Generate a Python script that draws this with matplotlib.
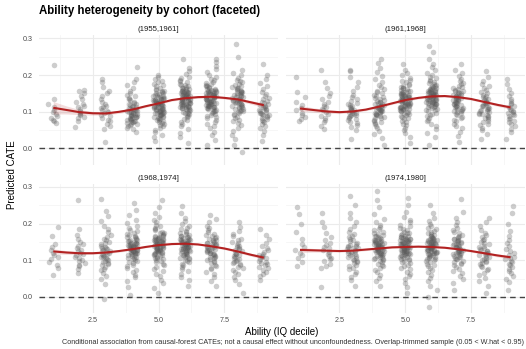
import matplotlib
matplotlib.use("Agg")
import matplotlib.pyplot as plt
import numpy as np

plt.rcParams['font.family'] = ['Liberation Sans', 'DejaVu Sans']

# ================= data ============================================
deciles = [1, 2, 3, 4, 5, 6, 7, 8, 9]
cohorts = ['(1955,1961]', '(1961,1968]', '(1968,1974]', '(1974,1980]']

# predicted CATE of points (in thousandths), one string per decile
pts_1955 = [
    "70 74 78 83 88 94 100 106 112 122 136 227",
    "58 76 82 86 90 94 98 103 108 112 115 120 128 135 142 150 156 160",
    "18 53 62 68 74 79 84 88 92 96 99 102 106 110 113 117 122 128 135 142 150 158 168 180 190",
    "45 52 56 60 63 66 68 70 72 73 75 76 78 79 80 81 83 84 85 86 88 89 90 91 92 94 95 96 97 99 100 101 102 104 105 106 108 109 111 112 114 116 118 120 122 125 128 131 134 138 142 147 152 158 165 172 180 190 222",
    "20 30 38 45 51 56 60 64 67 70 73 75 77 79 81 83 84 86 87 89 90 91 92 94 95 96 97 98 99 100 101 102 103 104 105 106 107 108 109 110 111 112 113 114 115 116 117 118 119 120 121 122 123 124 125 126 127 128 129 130 131 132 133 134 135 136 137 138 140 141 142 144 145 147 148 150 152 154 156 158 160 163 166 169 172 176 180 185 190 196 200",
    "14 30 42 52 60 67 72 77 81 85 88 91 94 96 98 100 102 104 105 107 108 110 111 112 113 114 115 116 117 118 119 120 121 122 123 124 125 126 127 128 129 130 131 132 133 134 135 136 137 138 139 140 141 142 143 144 145 146 147 148 149 150 151 152 153 154 155 156 157 158 160 161 163 164 166 168 170 172 174 177 180 183 187 191 196 202 210 220 245",
    "10 23 36 46 55 62 68 73 78 82 86 89 92 95 97 99 101 103 105 107 108 110 111 112 113 114 115 116 117 118 119 120 121 122 123 124 125 126 127 128 129 130 131 132 133 134 135 136 137 138 139 140 141 142 143 144 145 146 147 148 149 150 151 152 153 154 155 156 157 158 159 160 162 163 165 167 169 171 173 176 179 182 186 190 195 201 208 216 226 236 245",
    "-10 10 26 38 48 56 63 69 74 79 83 87 90 93 96 99 101 103 105 107 109 111 112 114 115 117 118 120 121 123 124 126 127 129 130 132 133 135 136 138 139 141 142 144 145 147 148 150 151 153 154 156 158 160 162 164 166 168 171 174 177 180 184 188 193 199 206 215 250 286",
    "20 38 48 56 62 67 71 75 78 81 84 86 88 90 92 94 96 98 100 102 104 106 108 110 112 114 116 118 121 124 127 130 134 138 143 148 154 161 169 178 189 200 230",
]
pts_1961 = [
    "75 80 86 92 98 104 110 118 127 140 155 195",
    "52 62 72 78 84 89 94 99 104 108 112 117 122 128 135 143 152 165 182 214",
    "27 50 58 64 69 73 77 80 83 86 88 90 92 94 96 98 100 102 104 106 108 110 112 115 118 121 125 129 134 140 147 156 167 180 195 210 214",
    "10 28 40 49 56 61 66 70 73 76 79 82 84 86 88 90 92 93 95 96 98 99 101 102 104 105 107 108 110 111 113 114 116 117 119 120 122 124 126 128 130 132 134 137 140 143 146 150 154 158 163 168 174 181 189 198 208 220 232 245",
    "14 30 41 50 57 63 68 72 76 80 83 86 89 91 93 95 97 99 101 102 104 105 107 108 109 110 111 112 113 114 115 116 117 118 119 120 121 122 123 124 125 126 127 128 129 130 131 132 133 134 135 136 137 138 139 140 141 142 143 144 145 146 147 148 149 150 152 153 155 156 158 160 162 164 166 168 171 174 177 180 184 188 193 199 206 214 230",
    "10 30 43 53 61 68 74 79 84 88 92 95 98 101 104 106 108 110 112 114 115 117 118 120 121 122 123 124 125 126 127 128 129 130 131 132 133 134 135 136 137 138 139 140 141 142 143 144 145 146 147 148 149 150 151 152 153 154 155 156 157 158 159 160 161 162 164 165 167 169 171 173 175 178 181 184 187 191 195 200 206 213 221 230 245 262 280",
    "18 35 46 55 62 68 74 79 83 87 90 93 96 99 101 103 105 107 109 111 113 114 116 117 119 120 122 123 125 126 128 129 131 132 134 135 137 138 140 141 143 144 146 147 149 150 152 154 156 158 160 162 165 168 171 175 179 184 190 197 205 215 230",
    "25 40 50 57 63 68 72 76 80 83 86 89 91 93 95 97 99 101 103 105 107 109 111 113 115 117 119 121 123 125 127 129 131 134 137 140 143 146 150 154 159 164 170 177 185 195 210",
    "26 45 54 61 67 72 76 80 84 88 91 94 97 100 103 106 109 112 116 120 125 130 136 143 151 161 175 190",
]
pts_1968 = [
    "59 80 88 95 102 108 114 120 127 135 145 167 190",
    "65 76 83 88 93 97 101 105 109 113 117 121 125 129 133 138 144 150 158 168 185 264",
    "-5 35 48 58 66 72 77 82 86 90 93 96 99 101 104 106 108 110 112 114 116 118 120 122 124 126 128 130 132 134 137 140 143 146 150 154 158 163 169 176 184 194 206 220 235 268",
    "5 28 42 53 61 68 74 79 84 88 92 95 98 101 103 105 107 109 111 113 114 116 117 119 120 121 122 123 124 125 126 127 128 129 130 131 132 133 134 135 136 137 138 139 140 141 142 143 144 145 146 147 148 150 151 153 154 156 158 160 162 164 166 169 172 175 179 183 188 194 201 210 222 238 257",
    "10 25 37 47 56 63 70 76 81 86 90 94 97 100 103 105 107 109 111 113 115 116 118 119 121 122 123 124 125 126 127 128 129 130 131 132 133 134 135 136 137 138 139 140 141 142 143 144 145 146 147 148 149 150 151 152 153 154 155 156 157 158 159 160 161 162 164 165 167 169 171 173 175 178 181 184 188 192 197 203 210 219 230 245 264",
    "30 45 55 63 70 76 81 86 90 94 97 100 103 105 107 109 111 113 115 117 118 120 121 123 124 125 126 127 128 129 130 131 132 133 134 135 136 137 138 139 140 141 142 143 144 145 146 147 148 149 150 151 152 153 154 155 156 157 159 160 162 163 165 167 169 171 174 177 180 184 188 193 199 206 215 228 248",
    "30 44 54 62 69 75 80 84 88 92 95 98 101 104 106 108 110 112 114 116 118 120 121 123 124 126 127 129 130 132 133 135 136 138 139 141 142 144 145 147 148 150 152 154 156 158 160 163 166 169 172 176 181 187 194 203 213 222",
    "10 34 46 55 62 68 73 78 82 86 89 92 95 98 101 104 107 110 112 114 116 118 121 124 127 130 133 136 139 142 146 150 154 159 165 172 180 190 205",
    "45 56 63 69 74 78 82 86 90 93 96 99 102 105 108 111 114 118 122 127 133 140 148 158 170 186",
]
pts_1974 = [
    "85 95 105 113 120 128 136 145 158 178 200 226 244",
    "27 78 85 91 97 102 107 112 117 122 127 132 137 142 148 155 163 175 190 205 230",
    "30 45 55 63 69 75 80 84 88 92 95 98 101 104 107 109 112 114 116 118 120 122 124 126 128 130 132 134 136 138 140 142 145 148 151 154 158 162 167 172 178 185 193 203 215 230 250 275",
    "30 42 52 60 67 73 78 83 87 91 94 97 100 102 104 106 108 110 112 114 115 117 118 120 121 122 123 124 125 126 127 128 129 130 131 132 133 134 135 136 137 138 139 140 141 142 143 144 145 146 147 148 149 150 151 152 153 155 156 158 159 161 163 165 167 169 172 175 178 182 186 191 197 204 213 225 245 265 289",
    "10 26 38 48 56 63 69 75 80 84 88 92 95 98 100 102 104 106 108 110 111 113 114 116 117 118 119 120 121 122 123 124 125 126 127 128 129 130 131 132 133 134 135 136 137 138 139 140 141 142 143 144 145 146 147 148 149 150 151 152 153 154 155 156 157 158 159 160 161 162 164 165 167 169 171 173 175 178 181 184 188 192 197 203 210 219 232 250 270",
    "-27 0 18 31 42 52 60 67 73 78 83 87 91 94 97 100 102 104 106 108 110 112 113 115 116 118 119 120 121 122 123 124 125 126 127 128 129 130 131 132 133 134 135 136 137 138 139 140 141 142 143 144 145 146 147 148 149 150 151 152 153 154 155 156 157 158 160 161 163 165 167 169 171 174 177 180 184 188 193 199 206 215 230 250",
    "20 37 48 57 65 71 77 82 86 90 93 96 99 102 104 106 108 110 112 114 116 117 119 120 122 123 125 126 128 129 131 132 134 135 137 138 140 141 143 144 146 147 149 151 153 155 157 159 161 164 167 170 174 178 183 189 196 205 216 232 266",
    "10 30 42 52 60 66 72 77 81 85 89 92 95 98 101 104 106 109 111 114 116 119 121 124 126 129 131 134 137 140 143 146 150 154 158 163 168 175 183 193 205 215",
    "20 40 50 58 65 71 76 81 86 90 94 98 102 106 110 115 120 125 131 138 146 155 166 180 200 230 248",
]

# smooth fit (read at half-decile steps) and its ribbon half-width
fit_x = [1, 1.5, 2, 2.5, 3, 3.5, 4, 4.5, 5, 5.5, 6, 6.5, 7, 7.5, 8, 8.5, 9]
fit_1955 = [0.111, 0.105, 0.099, 0.096, 0.0955, 0.100, 0.106, 0.115, 0.123, 0.132, 0.137, 0.140, 0.141, 0.138, 0.134, 0.126, 0.118]
fit_1961 = [0.109, 0.105, 0.101, 0.099, 0.101, 0.106, 0.114, 0.123, 0.132, 0.138, 0.142, 0.143, 0.140, 0.135, 0.127, 0.119, 0.112]
fit_1968 = [0.124, 0.121, 0.119, 0.119, 0.121, 0.125, 0.130, 0.136, 0.141, 0.144, 0.145, 0.143, 0.138, 0.132, 0.124, 0.115, 0.107]
fit_1974 = [0.128, 0.127, 0.126, 0.125, 0.126, 0.129, 0.132, 0.135, 0.136, 0.137, 0.136, 0.134, 0.130, 0.125, 0.119, 0.113, 0.108]
se_1955 = [0.017, 0.011, 0.007, 0.005, 0.004, 0.004, 0.004, 0.003, 0.003, 0.003, 0.003, 0.003, 0.003, 0.003, 0.004, 0.005, 0.006]
se_1961 = [0.008, 0.006, 0.005, 0.004, 0.003, 0.003, 0.003, 0.003, 0.003, 0.003, 0.003, 0.003, 0.003, 0.003, 0.003, 0.004, 0.005]
se_1968 = [0.007, 0.005, 0.004, 0.003, 0.003, 0.003, 0.003, 0.002, 0.002, 0.002, 0.002, 0.002, 0.002, 0.003, 0.003, 0.004, 0.005]
se_1974 = [0.007, 0.005, 0.004, 0.003, 0.003, 0.003, 0.002, 0.002, 0.002, 0.002, 0.002, 0.002, 0.002, 0.003, 0.003, 0.004, 0.005]

points = [pts_1955, pts_1961, pts_1968, pts_1974]
fits = [fit_1955, fit_1961, fit_1968, fit_1974]
ses = [se_1955, se_1961, se_1968, se_1974]

# =====================================================
W, H = 526, 349
fig = plt.figure(figsize=(W / 100, H / 100), dpi=100)

pw, ph = 239.5, 129.5
lefts = [38.8, 285.5]
tops = [35.5, 183.9]

red = '#B22222'
jit = 0.2

for k in range(4):
    col, row = k % 2, k // 2
    ax = fig.add_axes([lefts[col] / W, 1 - (tops[row] + ph) / H, pw / W, ph / H])
    ax.set_xlim(0.45, 9.55)
    ax.set_ylim(-0.045, 0.308)
    for d, s in zip(deciles, points[k]):
        y = np.fromstring(s, dtype=float, sep=' ') / 1000.0
        i = np.arange(len(y)) + 1
        # deterministic jitter (ggplot-like horizontal spread)
        u = np.sin(i * 12.9898 + d * 78.233 + k * 37.719) * 43758.5453
        off = ((u % 1.0) - 0.5) * 2 * jit
        ax.scatter(d + off, y, s=16, color='#5a5a5a', alpha=0.3, linewidths=0, zorder=2)
    fx = np.array(fit_x)
    fy = np.array(fits[k])
    se = np.array(ses[k])
    ax.fill_between(fx, fy - se, fy + se, color=red, alpha=0.15, linewidth=0, zorder=3)
    ax.plot(fx, fy, color=red, lw=1.5, zorder=4, solid_capstyle='butt')
    ax.axhline(0, color='#444444', lw=1.0, ls=(0, (4, 3)), zorder=4)

    ax.set_xticks([2.5, 5.0, 7.5])
    ax.set_xticks([1.25, 3.75, 6.25, 8.75], minor=True)
    ax.set_yticks([0.0, 0.1, 0.2, 0.3])
    ax.set_yticks([0.05, 0.15, 0.25], minor=True)
    ax.grid(True, which='major', color='#EBEBEB', lw=0.8, zorder=0)
    ax.grid(True, which='minor', color='#F3F3F3', lw=0.5, zorder=0)
    ax.set_axisbelow(True)
    for sp in ax.spines.values():
        sp.set_visible(False)
    ax.tick_params(which='both', length=0, labelsize=5.2, labelcolor='#4D4D4D')
    ax.tick_params(axis='x', pad=2.8)
    ax.tick_params(axis='y', pad=4.2)
    ax.set_yticklabels(['0.0', '0.1', '0.2', '0.3'])
    ax.set_xticklabels(['2.5', '5.0', '7.5'])
    if col == 1:
        ax.tick_params(axis='y', labelleft=False)
    if row == 0:
        ax.tick_params(axis='x', labelbottom=False)
    ax.text(0.5, 1 + 5.5 / ph, cohorts[k], transform=ax.transAxes, ha='center', va='center',
            fontsize=5.6, color='#1A1A1A')

fig.text(38.8 / W, 1 - 11 / H, 'Ability heterogeneity by cohort (faceted)', ha='left', va='center',
         fontsize=8.3, fontweight='bold', color='black')
fig.text(282 / W, 1 - 332 / H, 'Ability (IQ decile)', ha='center', va='center', fontsize=7, color='black')
fig.text(12 / W, 1 - 174.5 / H, 'Predicted CATE', ha='center', va='center', rotation=90, fontsize=7,
         color='black')
fig.text(524 / W, 1 - 343 / H,
         'Conditional association from causal-forest CATEs; not a causal effect without unconfoundedness. '
         'Overlap-trimmed sample (0.05 < W.hat < 0.95)',
         ha='right', va='center', fontsize=5.2, color='#333333')

fig.savefig('out.png', dpi=100)
